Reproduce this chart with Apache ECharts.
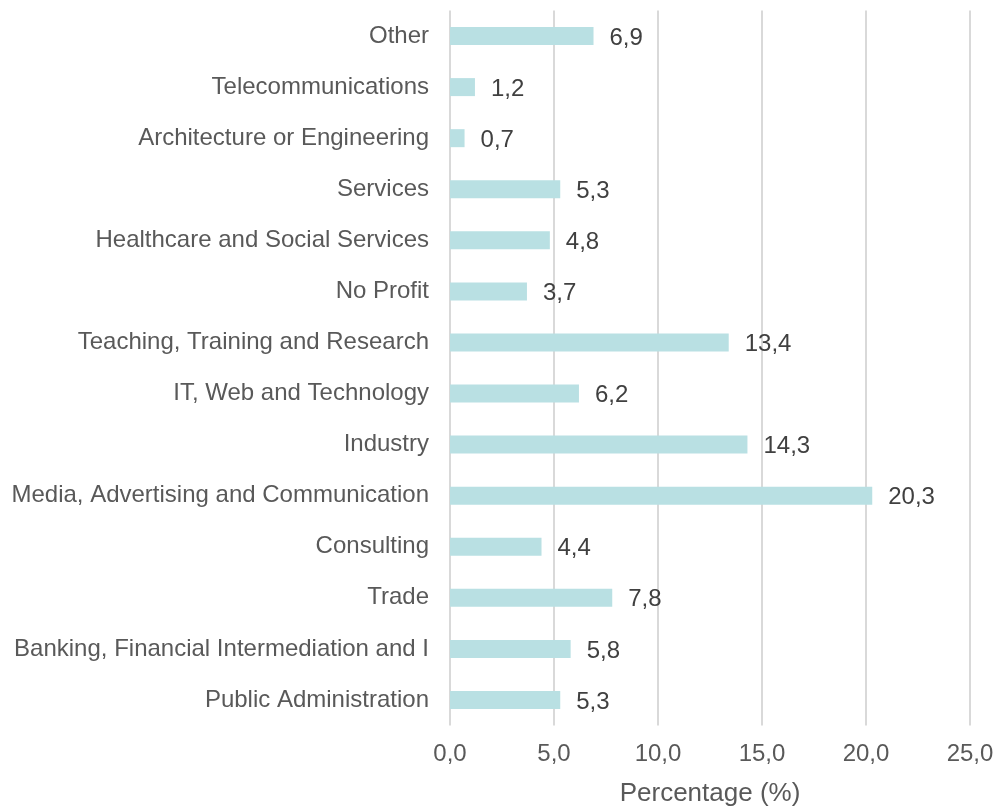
<!DOCTYPE html>
<html>
<head>
<meta charset="utf-8">
<script src="https://cdn.jsdelivr.net/npm/echarts@6/dist/echarts.min.js"></script>
<style>
  html, body { margin: 0; padding: 0; background: #fff; }
  #chart { width: 995px; height: 808px; }
</style>
</head>
<body>
<div id="chart"></div>
<script>
// Sectors, bottom to top as drawn
const sectors = [
  'Public Administration',
  'Banking, Financial Intermediation and I',
  'Trade',
  'Consulting',
  'Media, Advertising and Communication',
  'Industry',
  'IT, Web and Technology',
  'Teaching, Training and Research',
  'No Profit',
  'Healthcare and Social Services',
  'Services',
  'Architecture or Engineering',
  'Telecommunications',
  'Other'
];
const percentages = [5.3, 5.8, 7.8, 4.4, 20.3, 14.3, 6.2, 13.4, 3.7, 4.8, 5.3, 0.7, 1.2, 6.9];

// Decimal comma like the original
function fmt(v) {
  return Number(v).toFixed(1).replace('.', ',');
}

const chart = echarts.init(document.getElementById('chart'));

const option = {
  animation: false,
  textStyle: { fontFamily: 'Liberation Sans, Arial, sans-serif' },
  grid: {
    left: 450,
    right: 25,
    top: 10.5,
    bottom: 82.5,
    containLabel: false,
    outerBoundsMode: 'none'
  },
  xAxis: {
    type: 'value',
    min: 0,
    max: 25,
    interval: 5,
    name: 'Percentage (%)',
    nameLocation: 'middle',
    nameGap: 55,
    nameTextStyle: { fontSize: 26, color: '#595959' },
    axisLine: { show: false },
    axisTick: { show: false },
    axisLabel: {
      fontSize: 24,
      color: '#595959',
      margin: 17,
      formatter: fmt
    },
    splitLine: { lineStyle: { color: '#d9d9d9', width: 2 } }
  },
  yAxis: {
    type: 'category',
    data: sectors,
    axisLine: { show: false },
    axisTick: { show: false },
    axisLabel: {
      fontSize: 24,
      color: '#595959',
      margin: 21,
      padding: [3, 0, 0, 0]
    }
  },
  series: [
    {
      name: 'Percentage',
      type: 'bar',
      data: percentages,
      barWidth: 18,
      itemStyle: { color: '#b9e0e3' },
      label: {
        show: true,
        position: 'right',
        distance: 16,
        fontSize: 24,
        color: '#404040',
        offset: [0, 2],
        formatter: function (p) { return fmt(p.value); }
      }
    }
  ]
};

chart.setOption(option);
</script>
</body>
</html>
